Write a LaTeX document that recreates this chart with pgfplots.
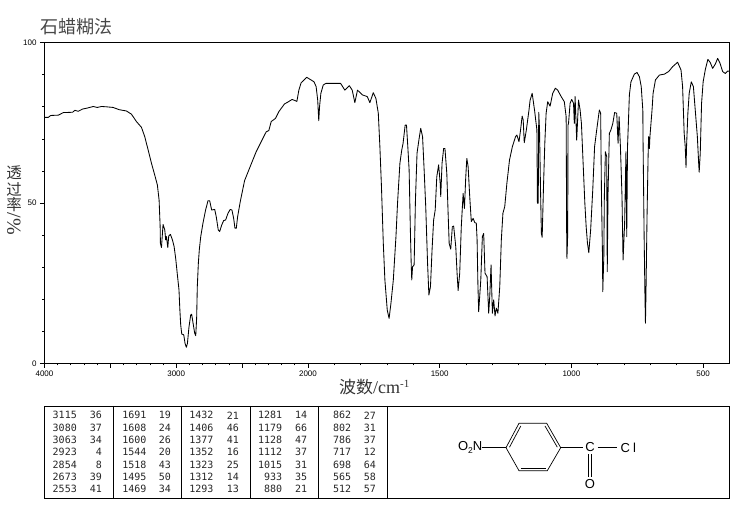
\documentclass[border=0pt]{standalone}
\usepackage{pgfplots}
\pgfplotsset{compat=1.18}
\usepackage{fontspec}
\setmainfont{Liberation Sans}
\newfontfamily\cjk{Noto Sans CJK SC}
\newfontfamily\serifpart{Liberation Serif}
\newfontfamily\tablefont{DejaVu Sans Mono}
\begin{document}
\begin{tikzpicture}
\path[use as bounding box] (0,0) rectangle (737pt,510pt);
\begin{axis}[
  at={(44.5pt,146.7pt)}, anchor=south west,
  scale only axis, width=685pt, height=320.6pt,
  x coord trafo/.code={\pgfmathparse{#1>2000?2000+(#1-2000)/2:#1}},
  x dir=reverse, xmin=400, xmax=4000, ymin=0, ymax=100,
  xtick={500,1000,1500,2000,2500,3000,3500,4000},
  xticklabels={500,1000,1500,2000,,3000,,4000},
  minor xtick={600,700,800,900,1100,1200,1300,1400,1600,1700,1800,1900,2100,2200,2300,2400,2600,2700,2800,2900,3100,3200,3300,3400,3600,3700,3800,3900},
  ytick={0,50,100},
  yticklabels={0,50,100},
  minor ytick={10,20,30,40,60,70,80,90},
  xtick pos=bottom, ytick pos=left, tick align=outside,
  major tick length=4.5pt, minor tick length=2.2pt,
  every tick/.style={black,line width=0.7pt},
  axis line style={line width=0.9pt},
  tick label style={font=\fontsize{8}{9}\selectfont},
  xticklabel style={yshift=0.5pt},
  clip=false,
]
\addplot[black, line width=0.85pt, sharp plot, mark=none, line join=round] table {
4000 76.7
3971 76.7
3953 77.3
3895 77.4
3857 78.2
3787 78.3
3769 78.9
3744 78.6
3711 79.3
3676 79.6
3630 80.1
3600 79.8
3567 80.1
3529 80.0
3479 79.8
3433 79.1
3378 78.7
3340 77.7
3302 75.4
3264 73.6
3239 70.7
3213 66.5
3188 62.4
3163 58.7
3143 55.6
3130 50.9
3122 42.6
3120 37.4
3112 36.1
3100 43.3
3087 41.6
3080 38.5
3074 39.5
3064 36.1
3057 39.7
3044 40.2
3029 38.5
3016 36.4
3004 32.7
2991 27.5
2979 22.9
2973 17.2
2966 12.0
2958 9.1
2943 8.9
2933 6.2
2923 5.0
2915 6.2
2903 11.4
2890 15.1
2883 15.3
2872 12.5
2860 9.4
2852 8.6
2845 14.0
2840 23.9
2832 31.2
2825 35.3
2814 39.5
2797 43.7
2777 47.8
2759 50.7
2746 50.7
2731 47.8
2708 48.0
2696 45.7
2681 41.6
2670 41.1
2655 43.1
2640 44.5
2625 44.7
2607 46.8
2590 48.0
2577 47.8
2564 45.2
2554 42.1
2544 42.1
2534 45.7
2514 50.4
2481 57.0
2443 60.9
2393 66.0
2355 69.1
2317 72.2
2297 72.6
2279 75.4
2246 76.4
2221 78.5
2178 80.9
2160 81.3
2120 82.3
2084 81.7
2069 85.2
2052 87.5
2009 89.2
1977 87.8
1969 86.3
1963 82.1
1959 75.7
1956 80.0
1951 84.2
1942 86.8
1932 87.3
1876 87.3
1860 85.2
1843 86.6
1832 85.2
1822 81.3
1812 85.2
1793 83.7
1775 83.2
1765 81.3
1752 84.4
1742 82.6
1733 78.0
1727 67.6
1721 55.1
1714 37.4
1708 26.0
1699 16.6
1692 14.0
1685 18.7
1676 26.0
1666 39.5
1660 49.9
1651 62.4
1644 66.5
1639 68.6
1631 74.3
1626 74.3
1621 67.6
1616 60.3
1611 40.5
1608 30.7
1606 26.0
1603 30.1
1597 30.7
1592 50.9
1586 65.5
1579 69.6
1572 73.3
1565 70.7
1559 60.3
1553 48.9
1546 31.2
1541 21.3
1535 23.9
1529 35.3
1523 44.7
1517 47.8
1511 58.2
1504 61.9
1498 56.1
1496 52.0
1491 62.4
1485 67.0
1480 67.0
1473 59.3
1468 46.8
1464 37.4
1458 35.6
1452 42.6
1447 42.8
1439 36.4
1434 28.1
1430 22.7
1424 28.1
1418 42.6
1411 53.0
1406 48.3
1401 58.2
1397 63.9
1392 61.3
1386 52.0
1380 44.2
1373 45.2
1367 43.9
1361 43.7
1358 38.5
1355 24.9
1352 16.1
1344 26.0
1338 39.5
1333 40.5
1328 28.1
1320 27.0
1314 15.6
1310 20.8
1305 30.7
1300 15.6
1295 19.8
1290 14.8
1285 17.2
1279 15.6
1272 23.9
1266 38.5
1260 46.8
1253 48.9
1245 56.1
1235 63.4
1224 67.6
1212 70.7
1207 71.2
1199 69.1
1193 72.8
1187 77.1
1183 75.9
1179 68.8
1171 72.8
1161 79.0
1157 82.0
1149 84.2
1140 79.0
1134 74.8
1131 72.8
1129 49.9
1126 49.9
1124 78.3
1121 72.8
1117 53.0
1114 40.5
1111 39.3
1106 55.1
1101 68.6
1096 78.0
1090 81.6
1081 80.2
1071 84.2
1061 85.8
1052 85.2
1039 83.2
1027 81.6
1020 76.9
1018 40.5
1017 32.7
1014 40.5
1013 74.3
1011 74.8
1005 81.1
999 82.3
992 81.1
989 74.8
986 83.2
980 69.6
973 82.1
967 79.0
962 74.8
955 61.3
949 49.9
944 42.6
939 37.4
934 34.5
927 41.6
919 54.1
912 67.6
904 72.8
894 79.0
889 78.0
886 53.0
882 33.3
881 22.3
877 33.3
875 52.0
871 66.0
866 64.4
864 28.6
861 53.0
856 71.7
850 72.8
843 74.8
836 78.2
828 78.0
823 68.6
819 76.9
814 67.6
808 52.0
804 32.2
798 43.7
793 66.0
790 39.5
787 67.6
780 83.7
774 87.8
761 90.2
751 90.7
742 89.4
735 86.3
729 79.0
728 68.6
724 39.5
721 21.8
719 12.5
717 21.8
713 45.7
709 64.4
707 70.7
704 67.0
702 70.7
694 79.0
690 84.2
681 88.4
666 89.9
647 90.2
631 91.0
616 92.5
597 93.9
584 91.5
578 86.3
572 71.7
568 67.6
565 61.1
563 67.6
558 78.0
553 84.2
545 87.8
537 86.3
530 79.0
522 70.7
517 62.4
515 59.6
511 65.5
506 81.1
500 87.8
492 91.5
482 94.8
473 93.8
464 92.0
454 93.3
445 95.1
436 93.6
426 91.0
416 90.4
406 91.2
400 91.0
};
\end{axis}
\begin{scope}[shift={(0,510pt)},x=1pt,y=-1pt]
\node[anchor=west,text=black!72,font=\cjk\fontsize{18}{18}\selectfont,inner sep=0] at (40,27) {石蜡糊法};
\foreach \c/\yy in {透/173,过/189,率/204.5}
  \node[text=black!80,font=\cjk\fontsize{15.5}{15.5}\selectfont,inner sep=0] at (14,\yy) {\c};
\node[rotate=-90,text=black!80,font=\serifpart\fontsize{20}{20}\selectfont,inner sep=0] at (14,224) {/\%};
\node[anchor=west,text=black!80,inner sep=0] at (339,387) {{\cjk\fontsize{17}{17}\selectfont 波数}{\serifpart\fontsize{18}{18}\selectfont /cm}\raisebox{6pt}{\serifpart\fontsize{11}{11}\selectfont -1}};
% table
\draw[line width=0.9pt] (44.4,406) rectangle (729.4,498);
\foreach \xx in {113.3,181.3,250.3,318.3,387.3} \draw[line width=0.9pt] (\xx,406) -- (\xx,498);
\newcommand\tabrow[3]{\pgfmathsetmacro\ry{415.3+12.3*#1}%
  \node[anchor=east,inner sep=0,text=black!85,font=\tablefont\fontsize{10}{10}\selectfont] at (#2,\ry) {#3};}
\foreach \r/\a/\b/\c/\d/\e/\f/\g/\h/\i/\j in {
 0/3115/36/1691/19/1432/21/1281/14/862/27,
 1/3080/37/1608/24/1406/46/1179/66/802/31,
 2/3063/34/1600/26/1377/41/1128/47/786/37,
 3/2923/4/1544/20/1352/16/1112/37/717/12,
 4/2854/8/1518/43/1323/25/1015/31/698/64,
 5/2673/39/1495/50/1312/14/933/35/565/58,
 6/2553/41/1469/34/1293/13/880/21/512/57}{
  \tabrow{\r}{77}{\a}\tabrow{\r}{102}{\b}
  \tabrow{\r}{146.7}{\c}\tabrow{\r}{171}{\d}
  \tabrow{\r}{213.7}{\e}\tabrow{\r}{239}{\f}
  \tabrow{\r}{282.3}{\g}\tabrow{\r}{307.3}{\h}
  \tabrow{\r}{351.3}{\i}\tabrow{\r}{376}{\j}
}
% molecule
\draw[line width=0.7pt] (506,447.7) -- (519,423.3) -- (546.7,423.3) -- (560.7,447.7) -- (547.3,470.7) -- (519,470.7) -- cycle;
\draw[line width=0.7pt] (509.5,447.2) -- (520.8,426);
\draw[line width=0.7pt] (545,426) -- (557.3,447.2);
\draw[line width=0.7pt] (520.5,468) -- (546,468);
\draw[line width=0.7pt] (481.7,447.7) -- (506,447.7);
\draw[line width=0.7pt] (560.7,447.7) -- (583,447.7);
\draw[line width=0.7pt] (597.5,447.7) -- (616.7,447.7);
\draw[line width=0.7pt] (588.5,454.3) -- (588.5,477.3);
\draw[line width=0.7pt] (591,454.3) -- (591,477.3);
\node[inner sep=0,anchor=east,font=\fontsize{13}{13}\selectfont] at (482.5,447.5) {O\raisebox{-2.5pt}{\fontsize{8.5}{9}\selectfont 2}N};
\node[inner sep=0,font=\fontsize{13}{13}\selectfont] at (590,447.5) {C};
\node[inner sep=0,anchor=west,font=\fontsize{13}{13}\selectfont] at (620.5,447.5) {C\hspace{3pt}l};
\node[inner sep=0,font=\fontsize{13}{13}\selectfont] at (590,484.5) {O};
\end{scope}
\end{tikzpicture}
\end{document}
